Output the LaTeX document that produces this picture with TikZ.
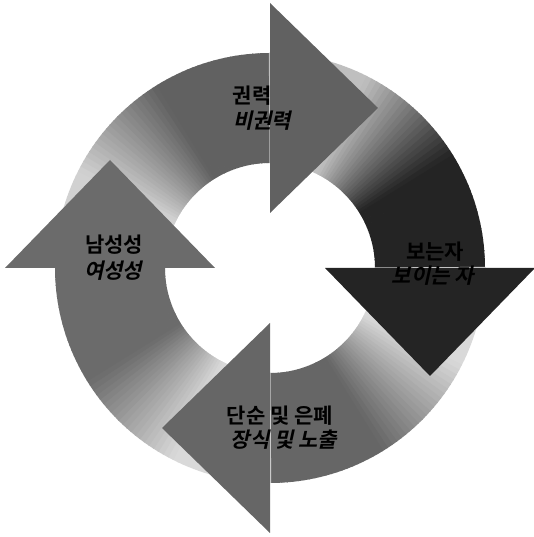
\documentclass[tikz,border=0pt]{standalone}
\usepackage{fontspec}
\newfontfamily\kr{Noto Sans CJK KR}[UprightFont=*, BoldFont=* Bold]
\newfontfamily\krit{Noto Sans CJK KR}[UprightFont=*, BoldFont=* Bold, FakeSlant=0.22]
\usetikzlibrary{calc}
\tikzset{
  lbl/.style={font=\kr\bfseries\fontsize{21}{24}\selectfont, inner sep=0pt, text=black},
  lbli/.style={font=\krit\bfseries\fontsize{21}{24}\selectfont, inner sep=0pt, text=black}
}
\newcommand\cycbody[3]{%
  \foreach \i in {0,...,59}{%
    \pgfmathsetmacro\aa{#1+90-1.5*\i+0.3}%
    \pgfmathsetmacro\bb{#1+90-1.5*(\i+1)}%
    \pgfmathsetmacro\tt{(\i+0.5)/60}%
    \pgfmathsetmacro\ff{max(0,min(1,(\tt-0.3)/0.35))}%
    \pgfmathsetmacro\pp{#2+(#3-#2)*\ff}%
    \fill[black!\pp] ($(C)+(\aa:215)$) arc[start angle=\aa,end angle=\bb,radius=215]
      -- ($(C)+(\bb:105)$) arc[start angle=\bb,end angle=\aa,radius=105] -- cycle;
  }}
\newcommand\cychead[2]{%
  \pgfmathsetmacro\dd{#1-90}%
  \fill[black!#2] ($(C)+(#1:55)$) -- ($(C)+(#1:265)$) -- ($(C)+(#1:160)+(\dd:108)$) -- cycle;}
\begin{document}
\begin{tikzpicture}[x=1pt,y=1pt]
\useasboundingbox (0,0) rectangle (534,537);
\coordinate (C) at (270,269);
% bodies
\cycbody{90}{18}{62}
\cycbody{0}{25}{86}
\cycbody{270}{15}{60}
\cycbody{180}{15}{58}
% heads
\cychead{90}{62}
\cychead{0}{86}
\cychead{270}{60}
\cychead{180}{58}
% labels
\node[lbl]  (t1) at (252,441) {권력};
\node[lbli] (t2) at (262,416) {비권력};
\node[lbl]  (r1) at (435,285) {보는자};
\node[lbli] (r2) at (433,261) {보이는 자};
\node[lbl]  (b1) at (280,121) {단순 및 은폐};
\node[lbli] (b2) at (284,97)  {장식 및 노출};
\node[lbl]  (l1) at (114,292) {남성성};
\node[lbli] (l2) at (113,266) {여성성};
\end{tikzpicture}
\end{document}
